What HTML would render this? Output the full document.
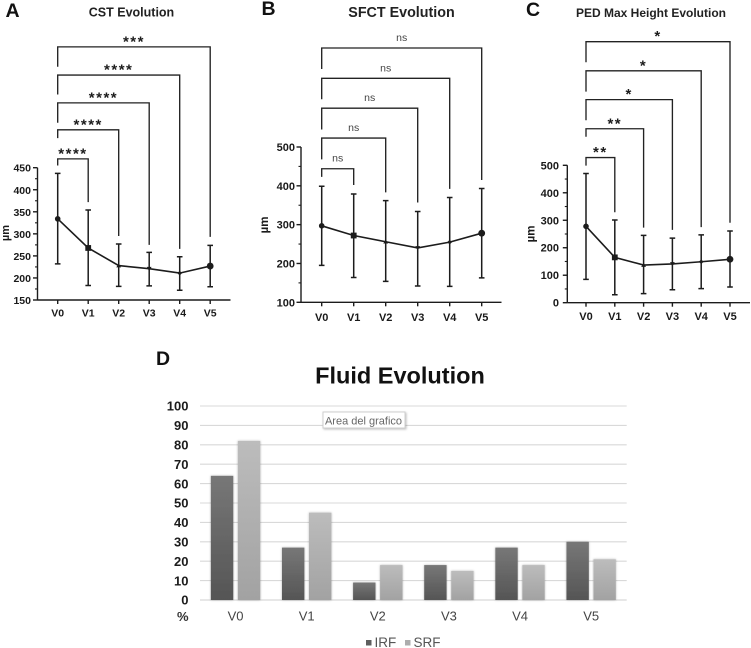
<!DOCTYPE html>
<html lang="en">
<head>
<meta charset="utf-8">
<title>Evolution charts</title>
<style>
html,body{margin:0;padding:0;background:#fff;width:751px;height:648px;overflow:hidden}
svg{display:block;font-family:"Liberation Sans",sans-serif;filter:blur(0.35px)}
.letter{font-size:19.5px;font-weight:700;fill:#111}
.ptitle{font-weight:700;fill:#222;text-anchor:middle}
.tick{font-size:11px;font-weight:700;fill:#1a1a1a}
</style>
</head>
<body>
<svg id="figure" xmlns="http://www.w3.org/2000/svg" width="751" height="648" viewBox="0 0 751 648">
  <defs>
    <linearGradient id="irfGrad" x1="0" y1="0" x2="0" y2="1"><stop offset="0" stop-color="#777"/><stop offset="1" stop-color="#555"/></linearGradient>
    <linearGradient id="srfGrad" x1="0" y1="0" x2="0" y2="1"><stop offset="0" stop-color="#bcbcbc"/><stop offset="1" stop-color="#a2a2a2"/></linearGradient>
    <filter id="barShadow" x="-30%" y="-10%" width="160%" height="120%"><feDropShadow dx="0" dy="0" stdDeviation="1.1" flood-color="#000" flood-opacity="0.3"/></filter>
  </defs>
  <text class="letter" x="5.5" y="17">A</text>
  <text class="letter" x="261.5" y="15">B</text>
  <text class="letter" x="526" y="16">C</text>
  <text class="letter" x="156" y="365">D</text>
  <text class="ptitle" x="131.5" y="16.5" font-size="12.5">CST Evolution</text>
  <text class="ptitle" x="401.5" y="17" font-size="14.3">SFCT Evolution</text>
  <text class="ptitle" x="651" y="17" font-size="12">PED Max Height Evolution</text>
  <text x="400" y="383.5" font-size="23.5" font-weight="700" fill="#111" text-anchor="middle">Fluid Evolution</text>
  <g id="panelA"></g>
  <g id="panelB"></g>
  <g id="panelC"></g>
  <g id="panelD"></g>
  <g>
    <rect x="323" y="412" width="82" height="16" fill="#fff" stroke="#cfcfcf" stroke-width="1" style="filter:drop-shadow(1px 1px 1px rgba(0,0,0,.25))"/>
    <text x="363.5" y="424.5" font-size="11" fill="#666" text-anchor="middle">Area del grafico</text>
  </g>
  <g>
    <rect x="366" y="640" width="5.5" height="5.5" fill="#5e5e5e"/>
    <text x="374.5" y="647" font-size="13.5" fill="#555">IRF</text>
    <rect x="405" y="640" width="5.5" height="5.5" fill="#adadad"/>
    <text x="413.5" y="647" font-size="13.5" fill="#555">SRF</text>
  </g>
</svg>
<script>
// Shared categories
const categories = ['V0', 'V1', 'V2', 'V3', 'V4', 'V5'];

// Panel A: CST
const cstMean = [334, 268, 228, 221, 211, 227];
const cstUpper = [437, 354, 277, 258, 248, 274];
const cstLower = [232, 183, 181, 182, 172, 180];
const cstTicks = [150, 200, 250, 300, 350, 400, 450];
const cstStars = ['****', '****', '****', '****', '***'];
const cstBracketTop = [470, 536, 597, 660, 724];
const cstBracketLeft = [455, 517, 552, 616, 679];
const cstBracketRight = [372, 295, 275, 266, 293];

// Panel B: SFCT
const sfctMean = [297, 272, 256, 240, 255, 278];
const sfctUpper = [399, 379, 362, 334, 370, 393];
const sfctLower = [195, 164, 154, 142, 141, 163];
const sfctTicks = [100, 200, 300, 400, 500];
const sfctStars = ['ns', 'ns', 'ns', 'ns', 'ns'];
const sfctBracketTop = [444, 523, 600, 677, 755];
const sfctBracketLeft = [423, 468, 545, 623, 701];
const sfctBracketRight = [402, 383, 357, 392, 415];

// Panel C: PED max height
const pedMean = [278, 165, 137, 141, 149, 158];
const pedUpper = [470, 301, 245, 235, 247, 261];
const pedLower = [85, 29, 33, 47, 51, 57];
const pedTicks = [0, 100, 200, 300, 400, 500];
const pedStars = ['**', '**', '*', '*', '*'];
const pedBracketTop = [528, 633, 739, 844, 950];
const pedBracketLeft = [499, 604, 664, 768, 875];
const pedBracketRight = [329, 273, 265, 275, 291];

// Panel D: Fluid
const irfValues = [64, 27, 9, 18, 27, 30];
const srfValues = [82, 45, 18, 15, 18, 21];
const fluidTicks = [0, 10, 20, 30, 40, 50, 60, 70, 80, 90, 100];

const NS = 'http://www.w3.org/2000/svg';
const INK = '#1c1c1c';

function mk(tag, parent, attrs, txt) {
  const el = document.createElementNS(NS, tag);
  for (const k in attrs) el.setAttribute(k, attrs[k]);
  if (txt !== undefined) el.textContent = txt;
  parent.appendChild(el);
  return el;
}

function drawMarker(parent, i, cx, cy) {
  let el;
  if (i === 0) {
    el = mk('circle', parent, {cx: cx, cy: cy, r: 2.8, fill: INK});
  } else if (i === 1) {
    el = mk('rect', parent, {x: cx - 2.9, y: cy - 2.9, width: 5.8, height: 5.8, fill: INK});
  } else if (i === 2) {
    el = mk('polygon', parent, {points: (cx - 2.4) + ',' + (cy + 1.8) + ' ' + (cx + 2.4) + ',' + (cy + 1.8) + ' ' + cx + ',' + (cy - 2.4), fill: INK});
  } else if (i === 3) {
    el = mk('polygon', parent, {points: (cx - 2.4) + ',' + (cy - 1.8) + ' ' + (cx + 2.4) + ',' + (cy - 1.8) + ' ' + cx + ',' + (cy + 2.4), fill: INK});
  } else if (i === 4) {
    el = mk('polygon', parent, {points: (cx - 2.4) + ',' + cy + ' ' + cx + ',' + (cy - 2.4) + ' ' + (cx + 2.4) + ',' + cy + ' ' + cx + ',' + (cy + 2.4), fill: INK});
  } else {
    el = mk('circle', parent, {cx: cx, cy: cy, r: 3.4, fill: INK});
  }
  
  
}

function drawLinePanel(g, o) {
  const yScale = v => o.yBottom - (v - o.min) * (o.yBottom - o.yTop) / (o.max - o.min);
  const xScale = i => o.x0 + i * o.step;
  const line = (a, b, c, d, sw) => mk('line', g, {x1: a, y1: b, x2: c, y2: d, stroke: INK, 'stroke-width': sw || 1.4});

  // axes
  const yAxis = line(o.axisX, yScale(o.max), o.axisX, o.yBottom, 1.4);
  
  
  const xAxis = line(o.axisX, o.yBottom, o.axisEnd, o.yBottom, 1.4);
  
  

  // y ticks + minor ticks
  o.ticks.forEach((t, i) => {
    const y = yScale(t);
    line(o.axisX - 4.5, y, o.axisX, y, 1.4);
    if (i < o.ticks.length - 1) {
      const ym = yScale((t + o.ticks[i + 1]) / 2);
      line(o.axisX - 2.5, ym, o.axisX, ym, 1.1);
    }
    const lab = mk('text', g, {x: o.labelRight, y: y + 4, 'text-anchor': 'end', class: 'tick'}, String(t));
    lab.style.fontSize = o.fs + 'px';
    
    
  });

  // y axis title
  const yt = mk('text', g, {transform: 'translate(' + o.titleX + ',' + o.titleY + ') rotate(-90)', 'text-anchor': 'middle', class: 'tick'}, 'µm');
  yt.style.fontSize = (o.fs + 0.5) + 'px';
  
  

  // x ticks + labels
  categories.forEach((c, i) => {
    const x = xScale(i);
    line(x, o.yBottom, x, o.yBottom + 4, 1.4);
    const lab = mk('text', g, {x: x, y: o.xLabelY, 'text-anchor': 'middle', class: 'tick'}, c);
    lab.style.fontSize = o.fs + 'px';
    
    
  });

  // error bars
  categories.forEach((c, i) => {
    const x = xScale(i);
    const eb = mk('path', g, {
      d: 'M' + x + ' ' + yScale(o.upper[i]) + 'V' + yScale(o.lower[i]) +
         'M' + (x - 2.8) + ' ' + yScale(o.upper[i]) + 'H' + (x + 2.8) +
         'M' + (x - 2.8) + ' ' + yScale(o.lower[i]) + 'H' + (x + 2.8),
      fill: 'none', stroke: INK, 'stroke-width': 1.5});
    
    
  });

  // mean line
  const pts = o.mean.map((v, i) => xScale(i) + ',' + yScale(v)).join(' ');
  const ml = mk('polyline', g, {points: pts, fill: 'none', stroke: INK, 'stroke-width': 1.6});
  
  
  o.mean.forEach((v, i) => drawMarker(g, i, xScale(i), yScale(v)));

  // significance brackets
  o.stars.forEach((s, i) => {
    const xL = xScale(0), xR = xScale(i + 1);
    const b = mk('path', g, {
      d: 'M' + xL + ' ' + yScale(o.bLeft[i]) + 'V' + yScale(o.bTop[i]) + 'H' + xR + 'V' + yScale(o.bRight[i]),
      fill: 'none', stroke: '#222', 'stroke-width': 1.35});
    
    
    const isNs = s === 'ns';
    const cx = (xL + xR) / 2;
    const top = yScale(o.bTop[i]);
    const t = mk('text', g, {x: cx, y: isNs ? top - 7 : top - 0.5, 'text-anchor': 'middle', fill: isNs ? '#444' : '#1c1c1c'}, s);
    t.style.fontSize = (isNs ? 10.5 : 15) + 'px';
    t.style.fontWeight = isNs ? '400' : '700';
    if (!isNs) t.style.letterSpacing = o.starGap + 'px';
    
    
  });
}

drawLinePanel(document.getElementById('panelA'), {
  min: 150, max: 450, yTop: 167.7, yBottom: 300, axisX: 37.5, axisEnd: 230.5, x0: 57.7, step: 30.5,
  labelRight: 31, titleX: 9, titleY: 233, xLabelY: 316.5, fs: 10.5, starGap: 1.5,
  ticks: cstTicks, mean: cstMean, upper: cstUpper, lower: cstLower, stars: cstStars,
  bTop: cstBracketTop, bLeft: cstBracketLeft, bRight: cstBracketRight
});
drawLinePanel(document.getElementById('panelB'), {
  min: 100, max: 500, yTop: 147, yBottom: 302.3, axisX: 301, axisEnd: 501.5, x0: 321.7, step: 32,
  labelRight: 295, titleX: 268, titleY: 225, xLabelY: 321, fs: 11, starGap: 1.5,
  ticks: sfctTicks, mean: sfctMean, upper: sfctUpper, lower: sfctLower, stars: sfctStars,
  bTop: sfctBracketTop, bLeft: sfctBracketLeft, bRight: sfctBracketRight
});
drawLinePanel(document.getElementById('panelC'), {
  min: 0, max: 500, yTop: 165.3, yBottom: 302.7, axisX: 567.3, axisEnd: 750, x0: 586, step: 28.8,
  labelRight: 559, titleX: 534.5, titleY: 234, xLabelY: 320, fs: 11, starGap: 1.5,
  ticks: pedTicks, mean: pedMean, upper: pedUpper, lower: pedLower, stars: pedStars,
  bTop: pedBracketTop, bLeft: pedBracketLeft, bRight: pedBracketRight
});

// Bar chart
(function () {
  const g = document.getElementById('panelD');
  const left = 200, right = 626.7, yTop = 406, yBottom = 600, maxV = 100;
  const yScale = v => yBottom - v * (yBottom - yTop) / maxV;
  const bandW = (right - left) / categories.length;
  const barW = 22.4, gap = 4.6;

  fluidTicks.forEach(t => {
    const y = yScale(t);
    const gl = mk('line', g, {x1: left, x2: right, y1: y, y2: y, stroke: t === 0 ? '#cfcfcf' : '#d9d9d9', 'stroke-width': 1.1});
    
    
    const lab = mk('text', g, {x: 188.5, y: y + 4.7, 'text-anchor': 'end', fill: '#1c1c1c'}, String(t));
    lab.style.fontSize = '13px';
    lab.style.fontWeight = '700';
    
    
  });
  const pct = mk('text', g, {x: 188.5, y: 621, 'text-anchor': 'end', fill: '#333'}, '%');
  pct.style.fontSize = '13px';
  pct.style.fontWeight = '700';
  
  

  categories.forEach((c, i) => {
    const cx = left + bandW * (i + 0.5);
    const h1 = yBottom - yScale(irfValues[i]);
    const h2 = yBottom - yScale(srfValues[i]);
    const b1 = mk('rect', g, {x: cx - gap / 2 - barW, y: yScale(irfValues[i]), width: barW, height: h1, fill: 'url(#irfGrad)', filter: 'url(#barShadow)'});
    
    
    const b2 = mk('rect', g, {x: cx + gap / 2, y: yScale(srfValues[i]), width: barW, height: h2, fill: 'url(#srfGrad)', filter: 'url(#barShadow)'});
    
    
    const lab = mk('text', g, {x: cx, y: 620.5, 'text-anchor': 'middle', fill: '#444'}, c);
    lab.style.fontSize = '13px';
    
    
  });
})();
</script>
</body>
</html>
